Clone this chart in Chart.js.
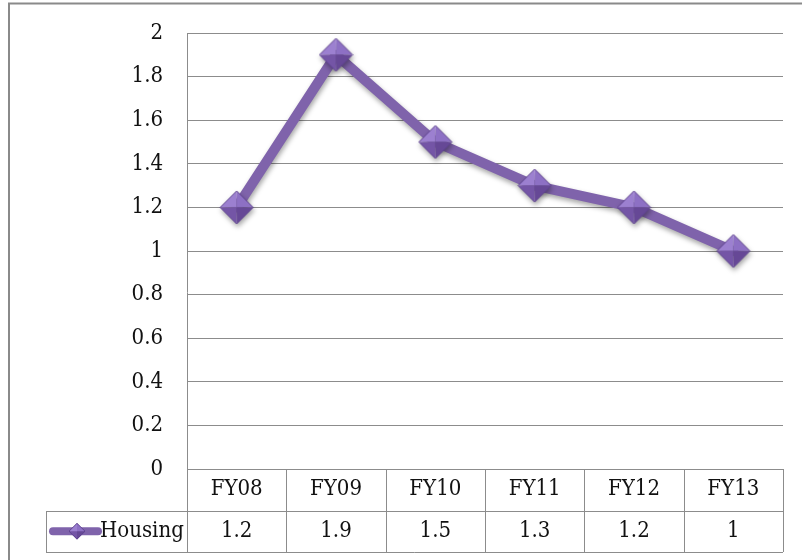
<!DOCTYPE html>
<html>
<head>
<meta charset="utf-8">
<script src="https://cdn.jsdelivr.net/npm/chart.js@4/dist/chart.umd.min.js"></script>
<style>
  html, body { margin: 0; padding: 0; background: #fff; }
  #wrap { width: 802px; height: 560px; }
</style>
</head>
<body>
<div id="wrap"><canvas id="c" width="802" height="560"></canvas></div>
<script>
// Housing series by fiscal year
const categories = ['FY08', 'FY09', 'FY10', 'FY11', 'FY12', 'FY13'];
const seriesName = 'Housing';
const housing = [1.2, 1.9, 1.5, 1.3, 1.2, 1];
const yMin = 0, yMax = 2, yStep = 0.2;

const FONT = '"DejaVu Serif Condensed", "Liberation Serif", serif';
const FONT_SIZE = 22;
const PURPLE = '#7f63ab';
const GRID = '#8c8c8c';

// Faceted diamond marker, lighter on top, darker below
function makeDiamond(size) {
  const c = document.createElement('canvas');
  c.width = size; c.height = size;
  const g = c.getContext('2d');
  const m = size / 2, r = size / 2 - 1;
  const T = [m, m - r], R = [m + r, m], B = [m, m + r], L = [m - r, m], C = [m, m];
  const facet = (p1, p2, col) => {
    g.beginPath(); g.moveTo(C[0], C[1]); g.lineTo(p1[0], p1[1]); g.lineTo(p2[0], p2[1]);
    g.closePath(); g.fillStyle = col; g.fill();
  };
  facet(L, T, '#9c80d0');
  facet(T, R, '#8d70c4');
  facet(R, B, '#664896');
  facet(B, L, '#7455a6');
  g.beginPath(); g.moveTo(T[0], T[1]); g.lineTo(R[0], R[1]); g.lineTo(B[0], B[1]); g.lineTo(L[0], L[1]);
  g.closePath(); g.strokeStyle = '#5f4390'; g.lineWidth = 1; g.stroke();
  return c;
}
const bigDiamond = makeDiamond(35);
const smallDiamond = makeDiamond(18);

// Frame, plot border and the data table under the plot
const tablePlugin = {
  id: 'dataTable',
  beforeDraw(chart) {
    const ctx = chart.ctx;
    ctx.save();
    ctx.strokeStyle = '#8a8a8a';
    ctx.lineWidth = 2;
    ctx.beginPath();
    ctx.moveTo(9, 562); ctx.lineTo(9, 3.5); ctx.lineTo(804, 3.5);
    ctx.stroke();
    ctx.restore();
  },
  afterDatasetsDraw(chart) {
    const ctx = chart.ctx;
    const x = chart.scales.x, y = chart.scales.y;
    const left = chart.chartArea.left, right = chart.chartArea.right;
    const top = y.getPixelForValue(yMax);
    const y0 = y.getPixelForValue(yMin);
    const rowH = 41.5;
    const y1 = y0 + rowH, y2 = y1 + rowH;
    const keyLeft = 46.5;
    const colW = (right - left) / categories.length;

    ctx.save();
    ctx.strokeStyle = GRID;
    ctx.lineWidth = 1;
    ctx.beginPath();
    // plot left edge, continued down through the table
    ctx.moveTo(Math.round(left) + 0.5, top); ctx.lineTo(Math.round(left) + 0.5, y2);
    // table rules
    ctx.moveTo(left, Math.round(y1) + 0.5); ctx.lineTo(right, Math.round(y1) + 0.5);
    ctx.moveTo(keyLeft, Math.round(y1) + 0.5); ctx.lineTo(left, Math.round(y1) + 0.5);
    ctx.moveTo(keyLeft, Math.round(y2) + 0.5); ctx.lineTo(right, Math.round(y2) + 0.5);
    ctx.moveTo(keyLeft, Math.round(y1)); ctx.lineTo(keyLeft, Math.round(y2) + 1);
    for (let i = 1; i <= categories.length; i++) {
      const bx = Math.round(left + colW * i) + 0.5;
      ctx.moveTo(bx, y0); ctx.lineTo(bx, y2);
    }
    ctx.stroke();

    ctx.fillStyle = '#111';
    ctx.font = FONT_SIZE + 'px ' + FONT;
    ctx.textAlign = 'center';
    ctx.textBaseline = 'middle';
    categories.forEach((cat, i) => {
      const cx = x.getPixelForValue(i);
      ctx.fillText(cat, cx, (y0 + y1) / 2);
      ctx.fillText(String(housing[i]), cx, (y1 + y2) / 2);
    });

    // legend key
    const ky = (y1 + y2) / 2;
    ctx.strokeStyle = PURPLE;
    ctx.lineWidth = 8;
    ctx.lineCap = 'round';
    ctx.beginPath(); ctx.moveTo(53, ky); ctx.lineTo(98, ky); ctx.stroke();
    ctx.drawImage(smallDiamond, 77 - 9, ky - 9, 18, 18);
    ctx.textAlign = 'left';
    ctx.fillText(seriesName, 100, ky);
    ctx.restore();
  }
};

// soft drop shadow under the series line and markers
const shadowPlugin = {
  id: 'seriesShadow',
  beforeDatasetsDraw(chart) {
    const ctx = chart.ctx;
    ctx.save();
    ctx.shadowColor = 'rgba(0,0,0,0.35)';
    ctx.shadowBlur = 5;
    ctx.shadowOffsetX = 1;
    ctx.shadowOffsetY = 3;
  },
  afterDatasetsDraw(chart) {
    chart.ctx.restore();
  }
};

new Chart(document.getElementById('c'), {
  type: 'line',
  data: {
    labels: categories,
    datasets: [{
      label: seriesName,
      data: housing,
      borderColor: PURPLE,
      borderWidth: 10,
      borderJoinStyle: 'round',
      borderCapStyle: 'round',
      tension: 0,
      clip: false,
      pointStyle: bigDiamond,
      pointBorderWidth: 0,
      pointRadius: 17,
      pointHoverRadius: 17
    }]
  },
  options: {
    responsive: false,
    animation: false,
    events: [],
    layout: { padding: { top: 33, right: 19, bottom: 91, left: 0 } },
    plugins: { legend: { display: false }, tooltip: { enabled: false } },
    scales: {
      x: {
        type: 'category',
        offset: true,
        display: false
      },
      y: {
        min: yMin,
        max: yMax,
        afterFit(scale) {
          scale.width = 187;
          scale.paddingTop = 0;
          scale.paddingBottom = 0;
        },
        border: { display: false },
        grid: { color: GRID, lineWidth: 1, drawTicks: false },
        ticks: {
          stepSize: yStep,
          padding: 24,
          color: '#111',
          font: { family: FONT, size: FONT_SIZE },
          callback: v => String(Number(v.toFixed(1)))
        }
      }
    }
  },
  plugins: [shadowPlugin, tablePlugin]
});
</script>
</body>
</html>
